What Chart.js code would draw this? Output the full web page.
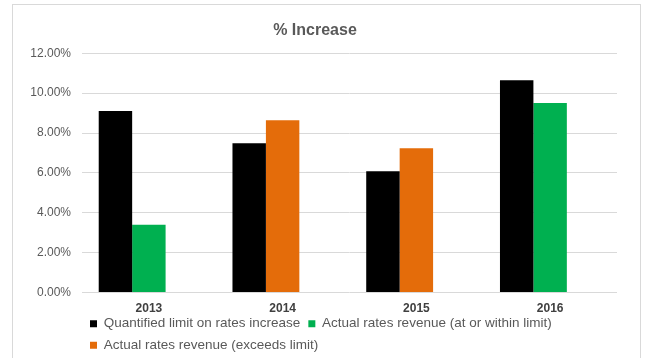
<!DOCTYPE html>
<html>
<head>
<meta charset="utf-8">
<script src="https://cdn.jsdelivr.net/npm/chart.js@4"></script>
<style>
  body { margin: 0; background: #fff; overflow: hidden; }
  .frame {
    position: absolute;
    left: 12px;
    top: 4px;
    width: 627px;
    height: 365px;
    border: 1px solid #d9d9d9;
    border-bottom: none;
  }
  .frame canvas { display: block; }
</style>
</head>
<body>
<div class="frame">
  <canvas id="canvas" width="627" height="365"></canvas>
</div>
<script>
const canvas = document.getElementById("canvas");

const years = ['2013', '2014', '2015', '2016'];
const limitIncrease = [9.1, 7.49, 6.08, 10.65];
const withinLimit = [3.4, null, null, 9.5];
const exceedsLimit = [null, 8.64, 7.24, null];
const yTicks = [0, 2, 4, 6, 8, 10, 12];

const textColor = '#595959';
const fontFamily = '"Liberation Sans", Arial, sans-serif';

// pull the legend up closer to the year labels
const legendLift = {
  id: 'legendLift',
  afterLayout(chart) {
    const legend = chart.legend;
    legend.top -= 8;
    legend.bottom -= 8;
  }
};

function createChart() {
  return new Chart(canvas, {
    type: 'bar',
    data: {
      labels: years,
      datasets: [{
        label: 'Quantified limit on rates increase',
        data: limitIncrease,
        backgroundColor: '#000000',
        stack: 'limit',
      }, {
        label: 'Actual rates revenue (at or within limit)',
        data: withinLimit,
        backgroundColor: '#00b050',
        stack: 'actual',
      }, {
        label: 'Actual rates revenue (exceeds limit)',
        data: exceedsLimit,
        backgroundColor: '#e46c0a',
        stack: 'actual',
      }, {
        // keeps a third empty slot in each group
        label: '',
        data: [],
        stack: 'spare',
      }]
    },
    plugins: [legendLift],
    options: {
      responsive: false,
      animation: false,
      categoryPercentage: 0.75,
      barPercentage: 1,
      borderWidth: 0,
      layout: { padding: { left: 0, right: 23, top: 0, bottom: 0 } },
      plugins: {
        title: {
          display: true,
          text: '% Increase',
          color: textColor,
          font: { family: fontFamily, size: 16, weight: 'bold' },
          padding: { top: 16, bottom: 13 },
        },
        legend: {
          position: 'bottom',
          align: 'start',
          fullSize: false,
          labels: {
            color: textColor,
            boxWidth: 7,
            boxHeight: 7,
            padding: 8,
            font: { family: fontFamily, size: 13.5 },
            filter: item => item.text !== '',
          },
        },
        tooltip: { enabled: false },
      },
      scales: {
        x: {
          stacked: true,
          grid: { display: false },
          border: { display: false },
          ticks: {
            color: '#404040',
            padding: 1,
            font: { family: fontFamily, size: 12, weight: 'bold' },
          },
        },
        y: {
          stacked: true,
          min: 0,
          max: 12,
          afterBuildTicks: axis => {
            axis.ticks = yTicks.map(v => ({ value: v }));
          },
          afterFit: axis => {
            axis.width = 69;
          },
          grid: { color: '#d9d9d9', lineWidth: 1, drawTicks: false },
          border: { display: false },
          ticks: {
            color: textColor,
            padding: 11,
            font: { family: fontFamily, size: 12 },
            callback: v => v.toFixed(2) + '%',
          },
        },
      },
    },
  });
}

document.addEventListener("DOMContentLoaded", createChart);
</script>
</body>
</html>
